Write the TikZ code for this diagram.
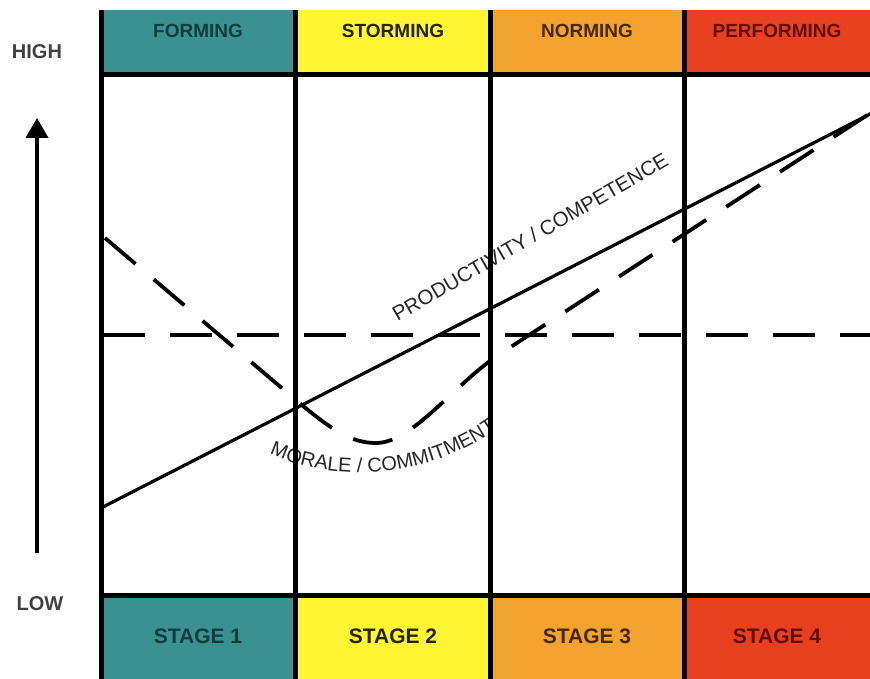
\documentclass[tikz,border=0pt]{standalone}
\usepackage{fontspec}
\setmainfont{Liberation Sans}
\usetikzlibrary{arrows.meta,decorations.text}
\definecolor{cteal}{RGB}{58,145,145}
\definecolor{cyellow}{RGB}{255,245,50}
\definecolor{corange}{RGB}{242,163,45}
\definecolor{cred}{RGB}{232,64,30}
\definecolor{tteal}{RGB}{20,60,60}
\definecolor{tyellow}{RGB}{35,35,5}
\definecolor{torange}{RGB}{70,40,10}
\definecolor{tred}{RGB}{95,15,10}
\definecolor{axisgray}{RGB}{65,65,65}
\tikzset{
  hdr/.style={font=\fontsize{19}{19}\selectfont\bfseries, anchor=center},
  ftr/.style={font=\fontsize{21}{21}\selectfont\bfseries, anchor=center},
  axislbl/.style={font=\fontsize{20}{20}\selectfont\bfseries, text=axisgray},
  frameline/.style={line width=5pt},
  prodline/.style={line width=3.2pt},
  moraleline/.style={line width=3.8pt, dash pattern=on 40pt off 24pt},
  midline/.style={line width=3.5pt, dash pattern=on 42pt off 25pt},
  curvelbl/.style={font=\fontsize{20.5}{20.5}\selectfont, text=black!85}
}
\begin{document}
\begin{tikzpicture}[x=1pt,y=-1pt]
\useasboundingbox (0,0) rectangle (870,679);
% header and footer fills
\fill[cteal]   (101,10) rectangle (295,75);
\fill[cyellow] (295,10) rectangle (490,75);
\fill[corange] (490,10) rectangle (684,75);
\fill[cred]    (684,10) rectangle (870,75);
\fill[cteal]   (101,595) rectangle (295,679);
\fill[cyellow] (295,595) rectangle (490,679);
\fill[corange] (490,595) rectangle (684,679);
\fill[cred]    (684,595) rectangle (870,679);
% header texts
\node[hdr, text=tteal]   (h1) at (198,31) {FORMING};
\node[hdr, text=tyellow] (h2) at (393,31) {STORMING};
\node[hdr, text=torange] (h3) at (587,31) {NORMING};
\node[hdr, text=tred]    (h4) at (777,31) {PERFORMING};
% footer texts
\node[ftr, text=tteal]   (f1) at (198,636) {STAGE 1};
\node[ftr, text=tyellow] (f2) at (393,636) {STAGE 2};
\node[ftr, text=torange] (f3) at (587,636) {STAGE 3};
\node[ftr, text=tred]    (f4) at (777,636) {STAGE 4};
% mid dashed line
\draw[midline] (103,335) -- (870,335);
% productivity line
\coordinate (p0) at (103,507);
\coordinate (p1) at (872,113);
\draw[prodline] (p0) -- (p1);
% morale curve
\coordinate (m0) at (105,238);
\coordinate (m1) at (290,395);
\coordinate (m2) at (376,443);
\coordinate (m3) at (500,354);
\coordinate (m4) at (872,112);
\draw[moraleline] (m0) -- (m1) .. controls (330,429) and (350,443) .. (m2)
  .. controls (413,443) and (455,383) .. (m3) -- (m4);
% curve labels
\node[curvelbl, rotate=30] (plbl) at (530,237) {PRODUCTIVITY / COMPETENCE};
\path[decorate, decoration={text along path, text align=center,
  text={|\fontsize{20}{20}\selectfont\color{black!85}|MORALE / COMMITMENT}}]
  (248,442) .. controls (315,485) and (430,488) .. (516,414);
% frame lines
\draw[frameline] (101,10) -- (101,679);
\draw[frameline] (295,10) -- (295,679);
\draw[frameline] (490,10) -- (490,679);
\draw[frameline] (684,10) -- (684,679);
\draw[frameline] (99,75) -- (870,75);
\draw[frameline] (99,595) -- (870,595);
% axis
\node[axislbl] (high) at (37,52) {HIGH};
\node[axislbl] (low) at (40,604) {LOW};
\coordinate (alow) at (37,553);
\coordinate (ahigh) at (37,118);
\draw[line width=4pt, -{Triangle[width=22pt,length=20pt]}] (alow) -- (ahigh);
\end{tikzpicture}
\end{document}
